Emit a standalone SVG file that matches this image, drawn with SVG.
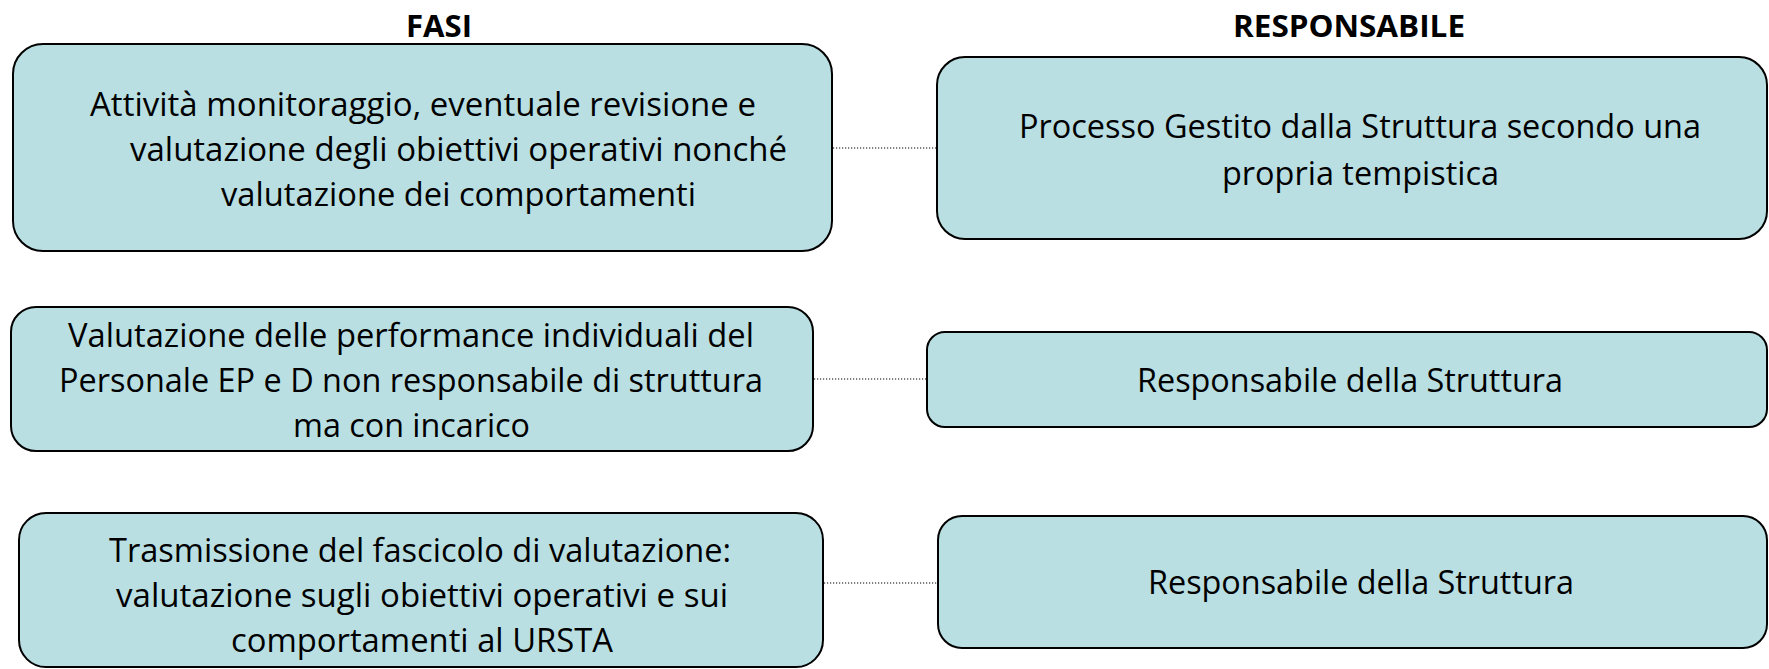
<svg xmlns="http://www.w3.org/2000/svg" width="1769" height="669" viewBox="0 0 1769 669">
<style>
.box{fill:#B9DFE3;stroke:#000;stroke-width:2}
.t{font-family:"Open Sans","Noto Sans","DejaVu Sans",sans-serif;font-size:32px;fill:#000}
.h{font-family:"Open Sans","Noto Sans","DejaVu Sans",sans-serif;font-size:30px;font-weight:bold;fill:#000}
.c{stroke:#000;stroke-width:1.2;stroke-dasharray:1.2 1.8;fill:none}
</style>
<rect width="1769" height="669" fill="#fff"/>
<g id="headers">
<text class="h" x="406" y="37" textLength="66" lengthAdjust="spacingAndGlyphs">FASI</text>
<text class="h" x="1233" y="37" textLength="232" lengthAdjust="spacingAndGlyphs">RESPONSABILE</text>
</g>
<g id="connectors">
<line class="c" x1="833" y1="148" x2="936" y2="148"/>
<line class="c" x1="814" y1="379" x2="926" y2="379"/>
<line class="c" x1="824" y1="583" x2="937" y2="583"/>
</g>
<g id="fase1">
<rect class="box" x="13" y="44" width="819" height="207" rx="30"/>
<text class="t" x="90" y="116" textLength="666" lengthAdjust="spacingAndGlyphs">Attività monitoraggio, eventuale revisione e</text>
<text class="t" x="130" y="161" textLength="657" lengthAdjust="spacingAndGlyphs">valutazione degli obiettivi operativi nonché</text>
<text class="t" x="221" y="206" textLength="475" lengthAdjust="spacingAndGlyphs">valutazione dei comportamenti</text>
</g>
<g id="resp1">
<rect class="box" x="937" y="57" width="830" height="182" rx="28"/>
<text class="t" x="1019" y="138" textLength="682" lengthAdjust="spacingAndGlyphs">Processo Gestito dalla Struttura secondo una</text>
<text class="t" x="1222" y="185" textLength="277" lengthAdjust="spacingAndGlyphs">propria tempistica</text>
</g>
<g id="fase2">
<rect class="box" x="11" y="307" width="802" height="144" rx="25"/>
<text class="t" x="68" y="347" textLength="686" lengthAdjust="spacingAndGlyphs">Valutazione delle performance individuali del</text>
<text class="t" x="59" y="392" textLength="704" lengthAdjust="spacingAndGlyphs">Personale EP e D non responsabile di struttura</text>
<text class="t" x="293" y="437" textLength="237" lengthAdjust="spacingAndGlyphs">ma con incarico</text>
</g>
<g id="resp2">
<rect class="box" x="927" y="332" width="840" height="95" rx="18"/>
<text class="t" x="1137" y="392" textLength="426" lengthAdjust="spacingAndGlyphs">Responsabile della Struttura</text>
</g>
<g id="fase3">
<rect class="box" x="19" y="513" width="804" height="154" rx="27"/>
<text class="t" x="109" y="562" textLength="622" lengthAdjust="spacingAndGlyphs">Trasmissione del fascicolo di valutazione:</text>
<text class="t" x="116" y="607" textLength="612" lengthAdjust="spacingAndGlyphs">valutazione sugli obiettivi operativi e sui</text>
<text class="t" x="231" y="652" textLength="382" lengthAdjust="spacingAndGlyphs">comportamenti al URSTA</text>
</g>
<g id="resp3">
<rect class="box" x="938" y="516" width="829" height="132" rx="24"/>
<text class="t" x="1148" y="594" textLength="426" lengthAdjust="spacingAndGlyphs">Responsabile della Struttura</text>
</g>
</svg>
